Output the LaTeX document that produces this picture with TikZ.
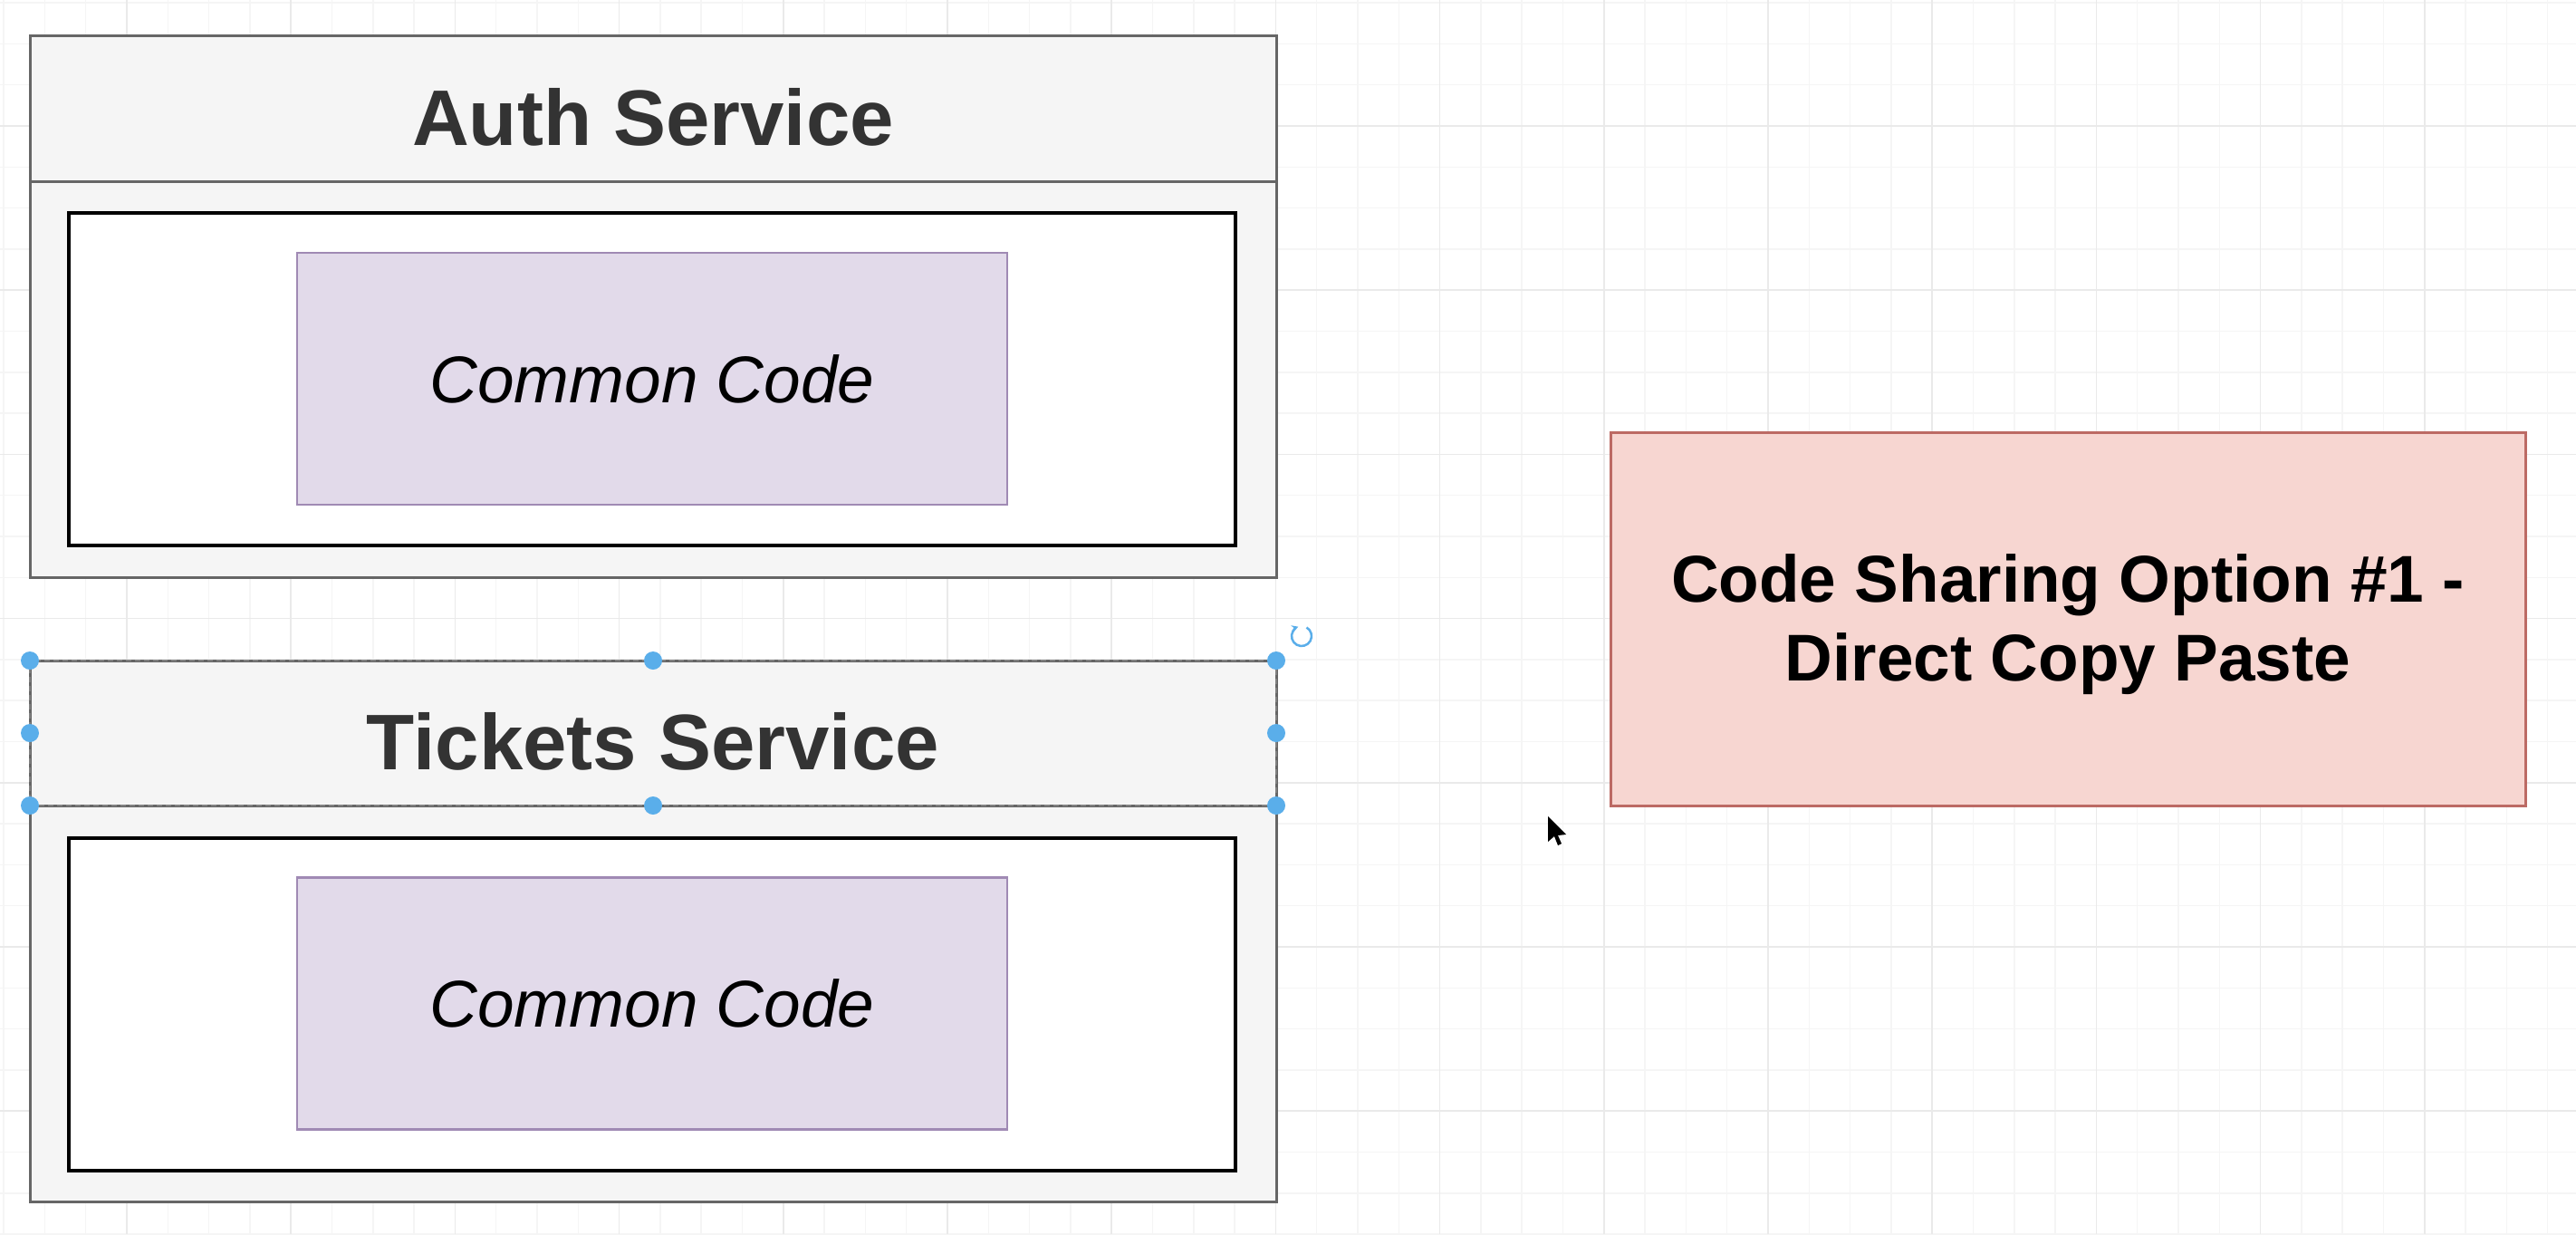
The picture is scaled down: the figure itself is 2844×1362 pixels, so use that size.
\documentclass[tikz,border=0pt]{standalone}
\usepackage{fontspec}
\setmainfont{Liberation Sans}
\usetikzlibrary{arrows.meta}

\definecolor{gridminor}{HTML}{F5F5F5}
\definecolor{gridmajor}{HTML}{EAEAEA}
\definecolor{boxfill}{HTML}{F5F5F5}
\definecolor{boxline}{HTML}{666666}
\definecolor{headtext}{HTML}{333333}
\definecolor{codefill}{HTML}{E2DAEA}
\definecolor{codeline}{HTML}{A08AB4}
\definecolor{notefill}{HTML}{F7D6D1}
\definecolor{noteline}{HTML}{BC6A64}
\definecolor{handle}{HTML}{5AAEEA}

\begin{document}
\begin{tikzpicture}[x=1pt, y=-1pt,
            service node/.style={rectangle, draw=boxline, fill=boxfill, line width=3pt, minimum width=1376pt, minimum height=597pt, inner sep=0pt},
            header node/.style={rectangle, draw=boxline, line width=3pt, minimum width=1376pt, minimum height=160pt, inner sep=0pt, text=headtext, font=\fontsize{87}{100}\selectfont\bfseries, text height=80pt, text depth=0pt},
            inner node/.style={rectangle, draw=black, fill=white, line width=4pt, minimum width=1288pt, minimum height=367pt, inner sep=0pt},
            code node/.style={rectangle, draw=codeline, fill=codefill, line width=2.5pt, minimum width=784pt, minimum height=278pt, inner sep=0pt, font=\fontsize{73}{85}\selectfont\itshape, text height=52pt, text depth=0pt},
            note node/.style={rectangle, draw=noteline, fill=notefill, line width=3pt, minimum width=1010pt, minimum height=412pt, inner sep=0pt, align=center, font=\fontsize{73}{87}\selectfont\bfseries},
            select node/.style={rectangle, draw=gray, dashed, dash pattern=on 6pt off 4pt, line width=2pt, minimum width=1376pt, minimum height=160pt, inner sep=0pt, outer sep=0pt},
            ]
            \useasboundingbox (0,0) rectangle (2844,1362);
            \fill[white] (0,0) rectangle (2844,1362);

            \foreach \i in {-3,...,60}
                \draw[gridminor, line width=1.5pt] ({140+45.3*\i},0) -- ++(0,1362);
            \foreach \i in {-3,...,27}
                \draw[gridminor, line width=1.5pt] (0,{139+45.3*\i}) -- ++(2844,0);
            \foreach \i in {0,...,15}
                \draw[gridmajor, line width=1.5pt] ({140+181.2*\i},0) -- ++(0,1362);
            \foreach \i in {0,...,7}
                \draw[gridmajor, line width=1.5pt] (0,{139+181.2*\i}) -- ++(2844,0);

            \node[service node] (auth) at (721,338.5) {};
            \node[header node] (authhead) at (721,120) {Auth Service};
            \node[inner node] (authinner) at (720,418) {};
            \node[code node] (authcode) at (720,418) {Common Code};

            \node[service node] (tickets) at (721,1027.5) {};
            \node[header node] (ticketshead) at (721,809) {Tickets Service};
            \node[inner node] (ticketsinner) at (720,1108) {};
            \node[code node] (ticketscode) at (720,1107.5) {Common Code};

            \node[note node] (note) at (2283,683) {};
            \node[align=center, font=\fontsize{73}{87}\selectfont\bfseries] (notetext) at (2283,689) {Code Sharing Option \#1 -\\Direct Copy Paste};

            \node[select node] (sel) at (721,809) {};
            \foreach \a in {north west, north, north east, west, east, south west, south, south east}
                \fill[handle] (sel.\a) circle (10pt);
            \coordinate (rot) at (1437,702);
            \draw[handle, line width=2.5pt, -{Stealth[length=7pt, width=8pt]}] (rot) ++(-60:11) arc[start angle=-60, end angle=250, radius=11];

            \coordinate (cursor) at (1709,901);
            \fill[black] (cursor) -- ++(0,28) -- ++(7,-6) -- ++(4,10) -- ++(4,-2) -- ++(-4,-9) -- ++(9,-1) -- cycle;
        \end{tikzpicture}
\end{document}
